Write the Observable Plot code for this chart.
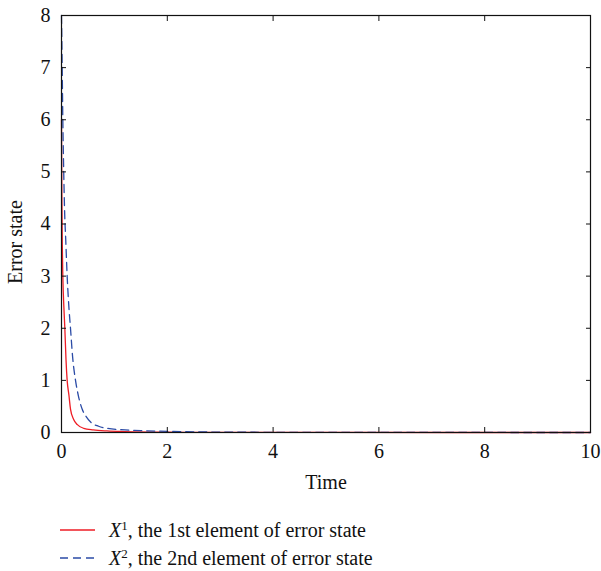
<!DOCTYPE html>
<html>
<head>
<meta charset="utf-8">
<script src="https://cdn.jsdelivr.net/npm/d3@7"></script>
<script src="https://cdn.jsdelivr.net/npm/@observablehq/plot@0.6"></script>
<style>
  body { margin: 0; background: #fff; font-family: "Liberation Serif", serif; }
  #legend { position: relative; width: 601px; height: 71px; }
  .row { position: absolute; left: 60px; display: flex; align-items: center; font-family: "Liberation Serif", serif; font-size: 20px; color: #111; white-space: nowrap; }
  .row svg { margin-right: 14px; }
</style>
</head>
<body>
<div id="chart"></div>
<div id="legend"></div>
<script>
// Time values and error-state values
const x1Time  = [0, 0.004, 0.008, 0.015, 0.025, 0.045, 0.063, 0.085, 0.107, 0.14, 0.17, 0.23, 0.3, 0.42, 0.6, 0.86, 1.2, 2, 3, 5, 10];
const x1Value = [6, 5.0,   4.4,   3.6,   3.0,   2.4,   2.0,   1.4,   1.0,   0.72, 0.45, 0.25, 0.15, 0.08, 0.05, 0.03, 0.018, 0.006, 0.002, 0.001, 0];
const x2Time  = [0, 0.013, 0.025, 0.042, 0.06, 0.08, 0.107, 0.14, 0.17, 0.21, 0.265, 0.32, 0.39, 0.47, 0.55, 0.7, 0.86, 1.2, 1.5, 1.84, 2.5, 3.5, 5, 7, 10];
const x2Value = [8, 7,     6,     5,     4.2,  3.7,  3.0,   2.4,  2.0,  1.45, 1.0,   0.7,  0.45, 0.3,  0.2,  0.12, 0.08, 0.05, 0.035, 0.025, 0.012, 0.005, 0.002, 0.001, 0];
const xTicks = [0, 2, 4, 6, 8, 10];
const yTicks = [0, 1, 2, 3, 4, 5, 6, 7, 8];
const seriesLabels = ["the 1st element of error state", "the 2nd element of error state"];
const redColor = "#ee1c24";
const blueColor = "#2b4ba6";

const x1 = x1Time.map((t, i) => ({t, v: x1Value[i]}));
const x2 = x2Time.map((t, i) => ({t, v: x2Value[i]}));

const font = "Liberation Serif";
const chart = Plot.plot({
  width: 601,
  height: 500,
  marginLeft: 61,
  marginRight: 11,
  marginTop: 15,
  marginBottom: 68,
  style: {fontFamily: font, fontSize: "20px", color: "#111", background: "#fff"},
  x: {domain: [0, 10]},
  y: {domain: [0, 8]},
  marks: [
    Plot.lineY(x1, {x: "t", y: "v", stroke: redColor, strokeWidth: 1.3, curve: "monotone-x"}),
    Plot.lineY(x2, {x: "t", y: "v", stroke: blueColor, strokeWidth: 1.3, strokeDasharray: "8,5", curve: "monotone-x"}),
    Plot.axisX(xTicks, {anchor: "bottom", tickSize: -5, tickPadding: 16, tickFormat: d3.format("d"), label: null, fontSize: 20}),
    Plot.axisX(xTicks, {anchor: "top", tickSize: -5, tickFormat: () => "", label: null}),
    Plot.axisY(yTicks, {anchor: "left", tickSize: -5, tickPadding: 16, tickFormat: d3.format("d"), label: null, fontSize: 20}),
    Plot.axisY(yTicks, {anchor: "right", tickSize: -5, tickFormat: () => "", label: null}),
    Plot.frame({stroke: "#111", strokeWidth: 1.2}),
    Plot.text(["Time"], {frameAnchor: "bottom", dy: 56, lineAnchor: "bottom", fontSize: 20}),
    Plot.text(["Error state"], {frameAnchor: "left", dx: -46, dy: 18, rotate: -90, textAnchor: "middle", lineAnchor: "middle", fontSize: 20})
  ]
});
document.getElementById("chart").appendChild(chart);

// Legend below the SVG
const legend = d3.select("#legend");
[[redColor, null, 1, seriesLabels[0], 30], [blueColor, "8,5", 2, seriesLabels[1], 58]].forEach(([c, dash, sup, label, cy]) => {
  const row = legend.append("div").attr("class", "row").style("top", (cy - 14) + "px").style("height", "28px");
  const s = row.append("svg").attr("width", 35).attr("height", 28);
  s.append("line").attr("x1", 0).attr("x2", 35).attr("y1", 14).attr("y2", 14)
    .attr("stroke", c).attr("stroke-width", 1.3).attr("stroke-dasharray", dash);
  const span = row.append("span");
  span.append("i").text("X");
  span.append("sup").style("font-size", "13px").style("vertical-align", "7px").style("line-height", "0").text(sup);
  span.append("span").text(", " + label);
});
</script>
</body>
</html>
